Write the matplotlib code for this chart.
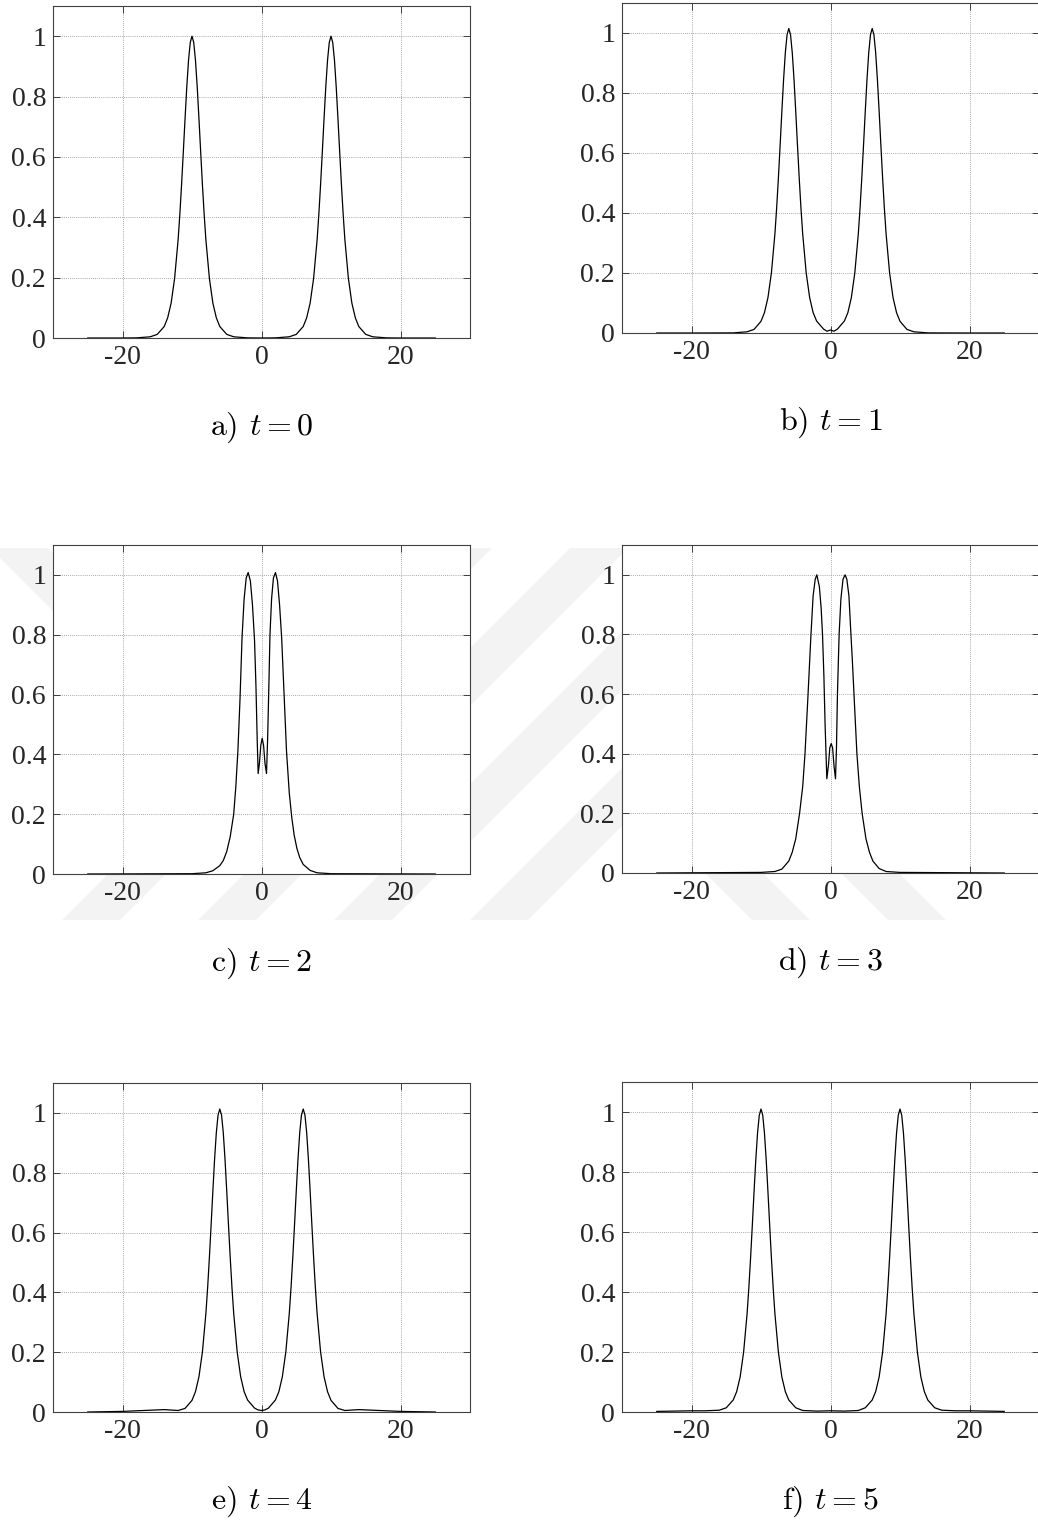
import matplotlib
matplotlib.use("Agg")
import matplotlib.pyplot as plt
from matplotlib.ticker import FormatStrFormatter
from matplotlib.patches import Polygon

plt.rcParams['font.family'] = 'Liberation Serif'
plt.rcParams['mathtext.fontset'] = 'cm'
plt.rcParams['axes.unicode_minus'] = False

W, H = 1038, 1524

# --- data ----------------------------------------------------------------
# panels a) and f): peaks at x = -10 and x = +10
x_a = [-25, -20, -18, -16, -15, -14, -13.5, -13, -12.5, -12, -11.75, -11.5, -11.25,
       -11, -10.75, -10.5, -10.25, -10, -9.75, -9.5, -9.25, -9, -8.75, -8.5, -8.25,
       -8, -7.5, -7, -6.5, -6, -5, -4, -2, 0, 2, 4, 5, 6, 6.5, 7, 7.5, 8, 8.25, 8.5,
       8.75, 9, 9.25, 9.5, 9.75, 10, 10.25, 10.5, 10.75, 11, 11.25, 11.5, 11.75, 12,
       12.5, 13, 13.5, 14, 15, 16, 18, 20, 25]
y_a = [0, 0, 0.0004, 0.004, 0.012, 0.038, 0.067, 0.116, 0.198, 0.325, 0.41, 0.508, 0.616,
       0.727, 0.832, 0.92, 0.979, 1.0, 0.979, 0.92, 0.832, 0.727, 0.616, 0.508, 0.41,
       0.325, 0.198, 0.116, 0.067, 0.038, 0.012, 0.004, 0.0004, 0, 0.0004, 0.004, 0.012,
       0.038, 0.067, 0.116, 0.198, 0.325, 0.41, 0.508, 0.616, 0.727, 0.832, 0.92, 0.979,
       1.0, 0.979, 0.92, 0.832, 0.727, 0.616, 0.508, 0.41, 0.325, 0.198, 0.116, 0.067,
       0.038, 0.012, 0.004, 0.0004, 0, 0]
y_f = [0.002, 0.004, 0.004, 0.006, 0.014, 0.04, 0.068, 0.117, 0.2, 0.328, 0.414, 0.513, 0.622,
       0.734, 0.84, 0.929, 0.989, 1.01, 0.989, 0.929, 0.84, 0.734, 0.622, 0.513, 0.414,
       0.328, 0.2, 0.117, 0.068, 0.04, 0.014, 0.005, 0.003, 0.004, 0.003, 0.005, 0.014,
       0.04, 0.068, 0.117, 0.2, 0.328, 0.414, 0.513, 0.622, 0.734, 0.84, 0.929, 0.989,
       1.01, 0.989, 0.929, 0.84, 0.734, 0.622, 0.513, 0.414, 0.328, 0.2, 0.117, 0.068,
       0.04, 0.014, 0.006, 0.004, 0.004, 0.002]

# panels b) and e): peaks at x = -6 and x = +6
x_b = [-25, -20, -14, -12, -11, -10, -9.5, -9, -8.5, -8, -7.75, -7.5, -7.25, -7, -6.75,
       -6.5, -6.25, -6, -5.75, -5.5, -5.25, -5, -4.75, -4.5, -4.25, -4, -3.5, -3, -2.5,
       -2, -1, -0.5, 0, 0.5, 1, 2, 2.5, 3, 3.5, 4, 4.25, 4.5, 4.75, 5, 5.25, 5.5, 5.75,
       6, 6.25, 6.5, 6.75, 7, 7.25, 7.5, 7.75, 8, 8.5, 9, 9.5, 10, 11, 12, 14, 20, 25]
y_b = [0, 0, 0.0004, 0.004, 0.012, 0.039, 0.068, 0.118, 0.201, 0.33, 0.416, 0.516, 0.625,
       0.738, 0.845, 0.934, 0.994, 1.015, 0.994, 0.934, 0.845, 0.738, 0.625, 0.516, 0.416,
       0.33, 0.201, 0.118, 0.068, 0.04, 0.013, 0.006, 0.01, 0.006, 0.013, 0.04, 0.068,
       0.118, 0.201, 0.33, 0.416, 0.516, 0.625, 0.738, 0.845, 0.934, 0.994, 1.015, 0.994,
       0.934, 0.845, 0.738, 0.625, 0.516, 0.416, 0.33, 0.201, 0.118, 0.068, 0.039, 0.012,
       0.004, 0.0004, 0, 0]
y_e = [0, 0.002, 0.008, 0.005, 0.012, 0.039, 0.068, 0.118, 0.201, 0.33, 0.416, 0.516, 0.625,
       0.738, 0.845, 0.934, 0.993, 1.013, 0.993, 0.934, 0.845, 0.738, 0.625, 0.516, 0.416,
       0.33, 0.201, 0.118, 0.068, 0.04, 0.013, 0.007, 0.005, 0.007, 0.013, 0.04, 0.068,
       0.118, 0.201, 0.33, 0.416, 0.516, 0.625, 0.738, 0.845, 0.934, 0.993, 1.013, 0.993,
       0.934, 0.845, 0.738, 0.625, 0.516, 0.416, 0.33, 0.201, 0.118, 0.068, 0.039, 0.012,
       0.005, 0.008, 0.002, 0]

# panel c): colliding pulses with central bump
x_c = [-25, -10, -8, -7, -6, -5.5, -5, -4.5, -4, -3.7, -3.4, -3.1, -2.8, -2.5, -2.2, -1.92,
       -1.6, -1.3, -1.0, -0.8, -0.62, -0.48, -0.3, -0.1, 0.1, 0.3, 0.5, 0.72, 0.88, 1.05,
       1.22, 1.45, 1.72, 2.01, 2.3, 2.6, 2.9, 3.25, 3.6, 4.0, 4.35, 4.7, 5.1, 5.5, 6, 7, 8,
       10, 25]
y_c = [0, 0.001, 0.004, 0.011, 0.028, 0.045, 0.075, 0.125, 0.2, 0.29, 0.41, 0.58, 0.79, 0.92,
       0.99, 1.008, 0.98, 0.9, 0.78, 0.63, 0.45, 0.336, 0.37, 0.43, 0.454, 0.43, 0.37, 0.336,
       0.45, 0.62, 0.8, 0.92, 0.99, 1.008, 0.98, 0.9, 0.79, 0.6, 0.41, 0.27, 0.19, 0.13,
       0.085, 0.055, 0.032, 0.012, 0.004, 0.001, 0]

# panel d)
x_d = [-25, -10, -8, -7, -6, -5.5, -5, -4.45, -4.0, -3.67, -3.25, -3.0, -2.81, -2.5, -2.2,
       -1.97, -1.6, -1.35, -1.15, -0.95, -0.78, -0.53, -0.3, -0.1, 0.1, 0.3, 0.5, 0.72, 0.86,
       1.0, 1.24, 1.5, 1.8, 2.1, 2.35, 2.65, 2.94, 3.15, 3.4, 3.8, 4.15, 4.55, 5.1, 5.6, 6.1,
       7, 8, 10, 25]
y_d = [0, 0.002, 0.005, 0.013, 0.04, 0.07, 0.115, 0.2, 0.29, 0.4, 0.59, 0.71, 0.8, 0.93,
       0.985, 1.0, 0.96, 0.89, 0.8, 0.66, 0.5, 0.316, 0.36, 0.42, 0.434, 0.42, 0.36, 0.316,
       0.42, 0.6, 0.8, 0.92, 0.985, 1.0, 0.985, 0.93, 0.8, 0.71, 0.59, 0.4, 0.29, 0.2, 0.115,
       0.07, 0.04, 0.015, 0.005, 0.002, 0]

captions = ['a) $t = 0$', 'b) $t = 1$', 'c) $t = 2$', 'd) $t = 3$', 'e) $t = 4$', 'f) $t = 5$']
series = [(x_a, y_a), (x_b, y_b), (x_c, y_c), (x_d, y_d), (x_b, y_e), (x_a, y_f)]
x_ticks = [-20, 0, 20]
y_ticks = [0, 0.2, 0.4, 0.6, 0.8, 1]

# axes boxes in pixels: left, top, right, bottom
boxes = [(53, 6, 470, 338), (622, 3, 1039, 333),
         (53, 545, 470, 874), (622, 545, 1039, 873),
         (53, 1083, 470, 1412), (622, 1082, 1039, 1412)]

fig = plt.figure(figsize=(W / 100, H / 100), dpi=100)

# faint watermark stripes behind the middle row
bg = fig.add_axes([0, 0, 1, 1], zorder=-5)
bg.set_xlim(0, W)
bg.set_ylim(H, 0)
bg.axis('off')
wm = '#f3f3f3'
y_top, y_bot, sw = 548, 920, 58
for x0 in [62, 198, 334, 470]:
    d = y_bot - y_top
    bg.add_patch(Polygon([(x0, y_bot), (x0 + sw, y_bot), (x0 + sw + d, y_top), (x0 + d, y_top)],
                         closed=True, color=wm, lw=0))
for x0 in [752, 888]:
    bg.add_patch(Polygon([(x0, y_bot), (x0 + sw, y_bot), (x0 + sw - 60, y_bot - 60),
                          (x0 - 60, y_bot - 60)], closed=True, color=wm, lw=0))
bg.add_patch(Polygon([(-10, y_top), (48, y_top), (120, y_top + 72), (62, y_top + 72)],
                     closed=True, color=wm, lw=0))

for (l, t, r, b), (xs, ys), cap in zip(boxes, series, captions):
    ax = fig.add_axes([l / W, 1 - b / H, (r - l) / W, (b - t) / H])
    ax.set_facecolor('white')
    ax.plot(xs, ys, color='black', lw=0.9)
    ax.set_xlim(-30, 30)
    ax.set_ylim(0, 1.1)
    ax.set_xticks(x_ticks)
    ax.set_yticks(y_ticks)
    ax.xaxis.set_major_formatter(FormatStrFormatter('%g'))
    ax.yaxis.set_major_formatter(FormatStrFormatter('%g'))
    ax.grid(True, color='0.55', ls=(0, (1, 1.5)), lw=0.6)
    ax.tick_params(direction='in', top=True, right=True, length=5, width=0.6,
                   color='0.15', labelcolor='0.15', labelsize=20, pad=5)
    for sp in ax.spines.values():
        sp.set_linewidth(0.8)
        sp.set_color('0.25')
    fig.text((l + r) / 2 / W, 1 - (b + 90) / H, cap, family='cmr10', size=23,
             ha='center', va='center')

fig.savefig('out.png', dpi=100)
